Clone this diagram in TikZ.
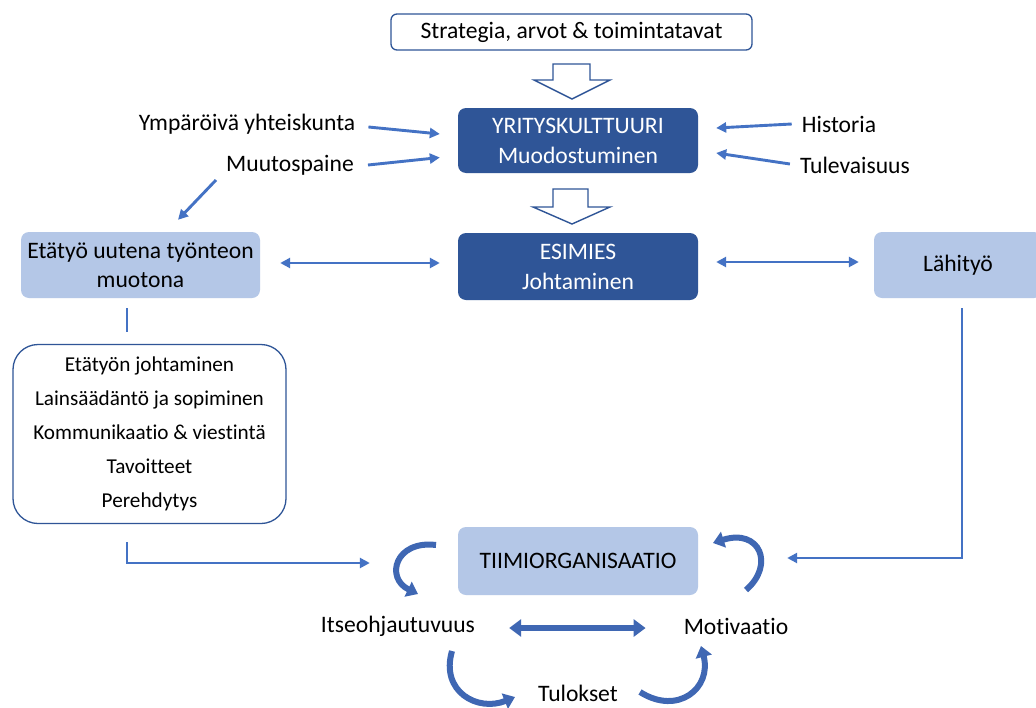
\documentclass[tikz,border=0pt]{standalone}
\usepackage{fontspec}
\setmainfont{Carlito}[Ligatures=NoCommon]
\usetikzlibrary{arrows.meta,calc}
\definecolor{dark}{HTML}{2F5597}
\definecolor{light}{HTML}{B4C7E7}
\definecolor{arr}{HTML}{4472C4}
\definecolor{curv}{HTML}{3F67B3}
\begin{document}
\begin{tikzpicture}[x=1pt,y=-1pt,
  txt/.style={font=\fontsize{23.6}{27}\selectfont, inner sep=0pt, text=black},
  darkbox/.style={rounded corners=8pt, fill=dark, text=white, minimum width=240pt, align=center,
    font=\fontsize{23.6}{30}\selectfont, inner sep=0pt},
  lightbox/.style={rounded corners=8pt, fill=light, text=black, align=center,
    font=\fontsize{23.6}{29}\selectfont, inner sep=0pt},
  thinarr/.style={draw=arr, line width=2.9pt, -{Triangle[width=10pt,length=10pt]}},
  thinline/.style={draw=arr, line width=2.9pt},
  dblarr/.style={draw=arr, line width=2.9pt, {Triangle[width=10pt,length=10pt]}-{Triangle[width=10pt,length=10pt]}},
  blockarr/.style={draw=dark, line width=1.4pt, fill=white, line join=miter},
  curvarr/.style={draw=curv, line width=6pt, -{Triangle[width=16pt,length=11pt]}},
  fatdbl/.style={draw=curv, line width=6pt, {Triangle[width=17pt,length=12pt]}-{Triangle[width=17pt,length=12pt]}}
]
\path[use as bounding box, fill=white] (0,0) rectangle (1036,707);

% top box
\node[draw=dark, line width=1.3pt, rounded corners=6pt, minimum width=361pt, minimum height=36pt,
  font=\fontsize{23.6}{27}\selectfont, inner sep=0pt, fill=white] (strat) at (571.5,32) {Strategia, arvot \& toimintatavat};

% block arrows
\draw[blockarr] (553,64) -- (590,64) -- (590,80) -- (610,80) -- (572,99) -- (534,80) -- (553,80) -- cycle;
\draw[blockarr] (553,189) -- (588,189) -- (588,207) -- (610,207) -- (572,224) -- (533,207) -- (553,207) -- cycle;

% central boxes
\node[darkbox, minimum height=65pt] (yrit) at (578,140.5) {YRITYSKULTTUURI\\Muodostuminen};
\node[darkbox, minimum height=67pt] (esim) at (578,266.5) {ESIMIES\\Johtaminen};
\node[lightbox, minimum width=240pt, minimum height=68pt] (tiimi) at (578,561) {TIIMIORGANISAATIO};

% side boxes
\node[lightbox, minimum width=239pt, minimum height=66pt] (eta) at (140.5,265) {Etätyö uutena työnteon\\muotona};
\begin{scope}
\clip (0,0) rectangle (1036,707);
\node[lightbox, minimum width=168pt, minimum height=66pt] (lahi) at (958,265) {Lähityö};
\end{scope}

\node[draw=dark, line width=1.3pt, rounded corners=25pt, minimum width=273pt, minimum height=179pt,
  align=center, font=\fontsize{21.2}{34}\selectfont, inner sep=0pt] (list) at (149.5,434)
  {Etätyön johtaminen\\Lainsäädäntö ja sopiminen\\Kommunikaatio \& viestintä\\Tavoitteet\\Perehdytys};

% free labels
\node[txt] (ymp) at (247,124) {Ympäröivä yhteiskunta};
\node[txt] (muut) at (290,165) {Muutospaine};
\node[txt] (hist) at (839,124) {Historia};
\node[txt] (tul) at (855,165) {Tulevaisuus};
\node[txt] (itse) at (398,626) {Itseohjautuvuus};
\node[txt] (moti) at (736,626) {Motivaatio};
\node[txt] (tulo) at (578,693) {Tulokset};

% thin arrows
\draw[thinarr] ($(ymp.east)+(13,3)$) -- ($(yrit.west)+(-18,-6.5)$);
\draw[thinarr] ($(muut.east)+(14,0)$) -- ($(yrit.west)+(-18,17)$);
\draw[thinarr] ($(muut.west)+(-10,15)$) -- ($(eta.north)+(37.5,-12)$);
\draw[thinarr] ($(hist.west)+(-10,0)$) -- ($(yrit.east)+(18,-12.5)$);
\draw[thinarr] ($(tul.west)+(-10,-1)$) -- ($(yrit.east)+(18,12.5)$);
\draw[dblarr] ($(eta.east)+(20,-2)$) -- ($(esim.west)+(-18,-3.5)$);
\draw[dblarr] ($(esim.east)+(18,-4.5)$) -- ($(lahi.west)+(-15,-3)$);

% vertical link eta - list
\draw[thinline] ($(eta.south)+(-13.5,10)$) -- ($(list.north)+(-22.5,-12)$);

% list -> tiimi
\draw[thinarr] ($(list.south)+(-22.5,18)$) |- ($(tiimi.west)+(-88,2)$);
% lahi -> tiimi
\draw[thinarr] ($(lahi.south)+(4,10)$) |- ($(tiimi.east)+(89,-3)$);

% curved arrows
\coordinate (c1s) at (436,545); \coordinate (c1e) at (418,594);
\coordinate (c2s) at (746,590); \coordinate (c2e) at (713,543);
\coordinate (c3s) at (452,651); \coordinate (c3e) at (515,697);
\coordinate (c4s) at (640,692); \coordinate (c4e) at (701,646);
\draw[curvarr] (c1s) .. controls (395,540) and (385,578) .. (c1e);
\draw[curvarr] (c2s) .. controls (775,565) and (760,528) .. (c2e);
\draw[curvarr] (c3s) .. controls (440,692) and (478,712) .. (c3e);
\draw[curvarr] (c4s) .. controls (678,716) and (712,688) .. (c4e);

% fat double arrow
\draw[fatdbl] ($(itse.east)+(34,2)$) -- ($(moti.west)+(-38,2)$);
\end{tikzpicture}
\end{document}
